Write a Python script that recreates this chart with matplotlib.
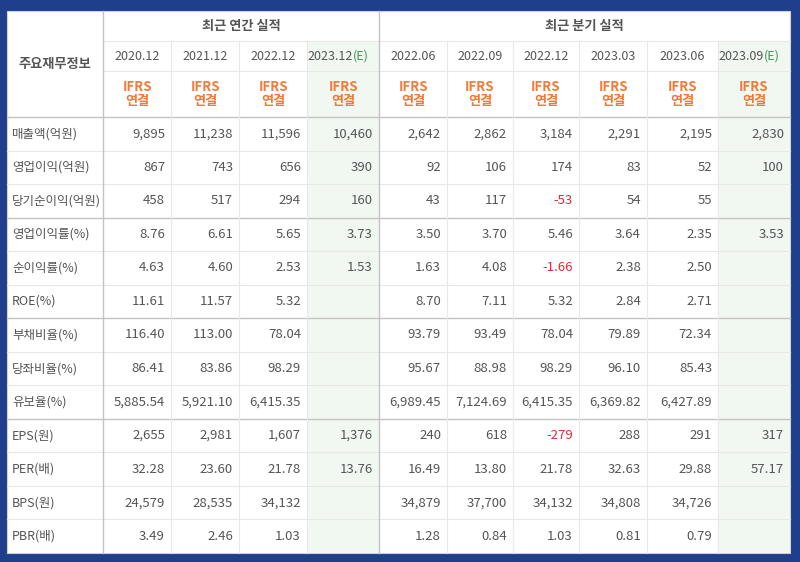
import matplotlib.pyplot as plt
from matplotlib.patches import Rectangle

plt.rcParams["font.family"] = ["Noto Sans CJK KR", "DejaVu Sans"]

# Column headers
annual_periods = ["2020.12", "2021.12", "2022.12", "2023.12"]
quarter_periods = ["2022.06", "2022.09", "2022.12", "2023.03", "2023.06", "2023.09"]
estimate_flags = [False, False, False, True, False, False, False, False, False, True]

row_labels = [
    "매출액(억원)", "영업이익(억원)", "당기순이익(억원)",
    "영업이익률(%)", "순이익률(%)", "ROE(%)",
    "부채비율(%)", "당좌비율(%)", "유보율(%)",
    "EPS(원)", "PER(배)", "BPS(원)", "PBR(배)",
]
row_decimals = [0, 0, 0, 2, 2, 2, 2, 2, 2, 0, 2, 0, 2]

# Values: 4 annual + 6 quarterly, None = empty
sales = [9895, 11238, 11596, 10460, 2642, 2862, 3184, 2291, 2195, 2830]
op_income = [867, 743, 656, 390, 92, 106, 174, 83, 52, 100]
net_income = [458, 517, 294, 160, 43, 117, -53, 54, 55, None]
op_margin = [8.76, 6.61, 5.65, 3.73, 3.50, 3.70, 5.46, 3.64, 2.35, 3.53]
net_margin = [4.63, 4.60, 2.53, 1.53, 1.63, 4.08, -1.66, 2.38, 2.50, None]
roe = [11.61, 11.57, 5.32, None, 8.70, 7.11, 5.32, 2.84, 2.71, None]
debt_ratio = [116.40, 113.00, 78.04, None, 93.79, 93.49, 78.04, 79.89, 72.34, None]
quick_ratio = [86.41, 83.86, 98.29, None, 95.67, 88.98, 98.29, 96.10, 85.43, None]
reserve_ratio = [5885.54, 5921.10, 6415.35, None, 6989.45, 7124.69, 6415.35, 6369.82, 6427.89, None]
eps = [2655, 2981, 1607, 1376, 240, 618, -279, 288, 291, 317]
per = [32.28, 23.60, 21.78, 13.76, 16.49, 13.80, 21.78, 32.63, 29.88, 57.17]
bps = [24579, 28535, 34132, None, 34879, 37700, 34132, 34808, 34726, None]
pbr = [3.49, 2.46, 1.03, None, 1.28, 0.84, 1.03, 0.81, 0.79, None]

table = [sales, op_income, net_income, op_margin, net_margin, roe,
         debt_ratio, quick_ratio, reserve_ratio, eps, per, bps, pbr]

BLUE = "#1f3e8b"
TEXT = "#555555"
ORANGE = "#f07a3a"
RED = "#e02a36"
GREEN_BG = "#f1f7f1"
GREEN_TXT = "#3e9a55"
LIGHT = "#e8e8e8"
DARK = "#c4c4c4"

fig = plt.figure(figsize=(8, 5.62), dpi=100)
fig.patch.set_facecolor(BLUE)
ax = fig.add_axes([0, 0, 1, 1])
ax.set_xlim(0, 800)
ax.set_ylim(562, 0)
ax.axis("off")

left, right, top, bottom = 7, 790, 11, 553
col_edges = [103, 171, 239, 307, 379, 447, 513, 579, 647, 718, 790]
head1, head2, head3 = 41, 71, 117
row_h = (bottom - head3) / len(row_labels)

ax.add_patch(Rectangle((left, top), right - left, bottom - top, facecolor="white",
                       edgecolor="#d0d0d0", lw=0.8, zorder=0))

# shaded estimate columns
for i, est in enumerate(estimate_flags):
    if est:
        ax.add_patch(Rectangle((col_edges[i], head1), col_edges[i + 1] - col_edges[i],
                               bottom - head1, facecolor=GREEN_BG, edgecolor="none", zorder=0.5))

# horizontal lines
ax.plot([col_edges[0], right], [head1, head1], color=LIGHT, lw=0.8)
ax.plot([col_edges[0], right], [head2, head2], color=LIGHT, lw=0.8)
ax.plot([left, right], [head3, head3], color=DARK, lw=1.0)
for r in range(1, len(row_labels)):
    y = head3 + r * row_h
    strong = r in (3, 6, 9)
    ax.plot([left, right], [y, y], color=DARK if strong else LIGHT, lw=1.0 if strong else 0.8)

# vertical lines
for i, x in enumerate(col_edges[:-1]):
    if i in (0, 4):
        ax.plot([x, x], [top, bottom], color=DARK, lw=1.0)
    else:
        ax.plot([x, x], [head1, bottom], color=LIGHT, lw=0.8)

# header texts
ax.text((left + col_edges[0]) / 2, (top + head3) / 2, "주요재무정보", ha="center", va="center",
        fontsize=9.5, fontweight="bold", color="#555555")
ax.text((col_edges[0] + col_edges[4]) / 2, (top + head1) / 2, "최근 연간 실적", ha="center",
        va="center", fontsize=9.5, fontweight="bold", color="#555555")
ax.text((col_edges[4] + right) / 2, (top + head1) / 2, "최근 분기 실적", ha="center",
        va="center", fontsize=9.5, fontweight="bold", color="#555555")

periods = annual_periods + quarter_periods
for i, p in enumerate(periods):
    cx = (col_edges[i] + col_edges[i + 1]) / 2
    cy = (head1 + head2) / 2
    if estimate_flags[i]:
        ax.text(cx + 10, cy, p, ha="right", va="center", fontsize=9, color=TEXT)
        ax.text(cx + 10, cy, "(E)", ha="left", va="center", fontsize=9, color=GREEN_TXT)
    else:
        ax.text(cx, cy, p, ha="center", va="center", fontsize=9, color=TEXT)
    ax.text(cx, (head2 + head3) / 2, "IFRS\n연결", ha="center", va="center", fontsize=9.5,
            fontweight="bold", color=ORANGE, linespacing=1.05)

# body
for r, label in enumerate(row_labels):
    cy = head3 + (r + 0.5) * row_h
    ax.text(left + 5, cy, label, ha="left", va="center", fontsize=9, color=TEXT)
    for c, v in enumerate(table[r]):
        if v is None:
            continue
        s = f"{v:,.{row_decimals[r]}f}"
        ax.text(col_edges[c + 1] - 6, cy, s, ha="right", va="center", fontsize=9.5,
                color=RED if v < 0 else TEXT)

fig.savefig("out.png", dpi=100, facecolor=BLUE)
